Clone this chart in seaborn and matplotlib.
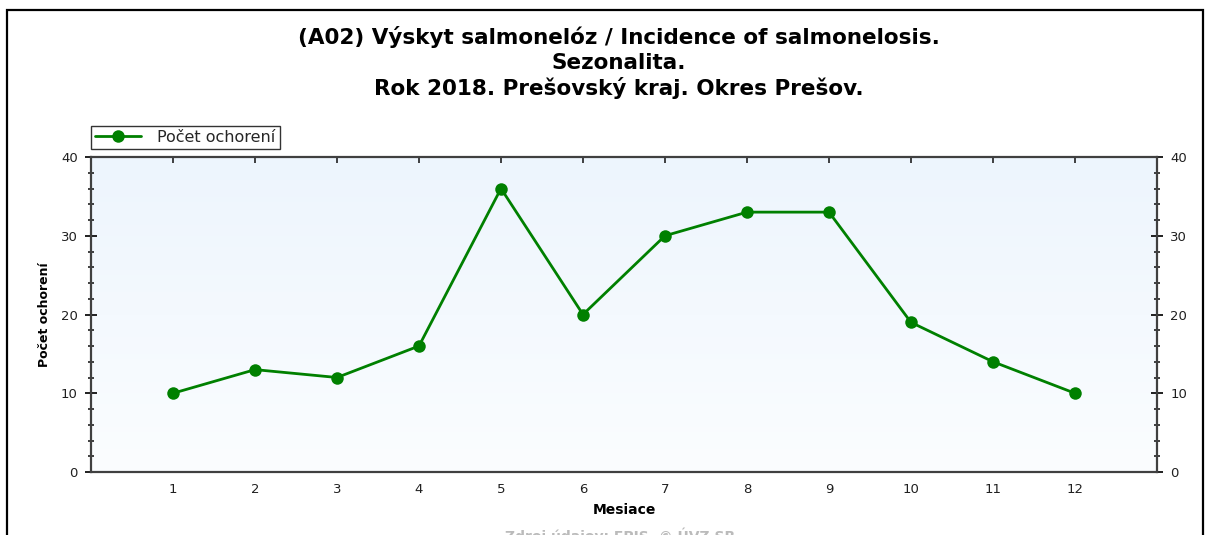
import numpy as np
import pandas as pd
import matplotlib
matplotlib.use("Agg")
import matplotlib.pyplot as plt
import seaborn as sns
from matplotlib.ticker import MultipleLocator
from matplotlib.patches import Rectangle

months = [1, 2, 3, 4, 5, 6, 7, 8, 9, 10, 11, 12]
cases = [10, 13, 12, 16, 36, 20, 30, 33, 33, 19, 14, 10]
series_name = "Počet ochorení"
title_lines = ["(A02) Výskyt salmonelóz / Incidence of salmonelosis.",
               "Sezonalita.",
               "Rok 2018. Prešovský kraj. Okres Prešov."]
x_label = "Mesiace"
y_label = "Počet ochorení"
source = "Zdroj údajov: EPIS, © ÚVZ SR"

sns.set_style("white")
plt.rcParams['font.family'] = ['DejaVu Sans']

W, H = 1206, 535
fig = plt.figure(figsize=(W / 100, H / 100), dpi=100)
fig.patch.set_facecolor("white")

# outer frame
fig.add_artist(Rectangle((7 / W, -0.1), (1203 - 7) / W, 1.1 - 10 / H,
                         transform=fig.transFigure, fill=False,
                         edgecolor="black", linewidth=1.6))

ax = fig.add_axes([91 / W, 1 - 472 / H, (1157 - 91) / W, (472 - 157) / H])

# gradient background
grad = np.linspace(0, 1, 256).reshape(-1, 1)
cmap = matplotlib.colors.LinearSegmentedColormap.from_list(
    "bg", ["#FBFDFF", "#EDF5FD"])
ax.imshow(grad, aspect="auto", cmap=cmap, origin="lower",
          extent=[0, 13, 0, 40], zorder=0)

df = pd.DataFrame({"Mesiac": months, series_name: cases})
sns.lineplot(data=df, x="Mesiac", y=series_name, ax=ax, color="#008000",
             marker="o", markersize=9, markeredgewidth=0, linewidth=2,
             label=series_name, zorder=3)

ax.set_xlim(0, 13)
ax.set_ylim(0, 40)
ax.set_xticks(months)
ax.yaxis.set_major_locator(MultipleLocator(10))
ax.yaxis.set_minor_locator(MultipleLocator(2))

for s in ax.spines.values():
    s.set_color("#404040")
    s.set_linewidth(1.6)

ax.tick_params(axis="x", which="major", direction="inout", length=8,
               width=1.4, color="#202020", labelsize=9.5, pad=4,
               labelcolor="#202020")
ax.tick_params(axis="y", which="major", direction="inout", length=9,
               width=1.4, color="#202020", labelsize=9.5, left=True, right=True,
               labelleft=True, labelright=True, pad=5, labelcolor="#202020")
ax.tick_params(axis="y", which="minor", direction="inout", length=5,
               width=1.2, color="#202020", left=True, right=True)

top = ax.secondary_xaxis("top")
top.set_xticks(months)
top.tick_params(direction="in", length=4, width=1.2, color="#202020",
                labeltop=False)
top.spines["top"].set_visible(False)

ax.set_xlabel(x_label, fontsize=10, fontweight="bold", labelpad=5,
              color="black")
ax.set_ylabel(y_label, fontsize=9, fontweight="bold", labelpad=7,
              color="black")

leg = ax.legend(loc="lower left", bbox_to_anchor=(91 / W, 1 - 149 / H),
                bbox_transform=fig.transFigure, frameon=True, fancybox=False,
                fontsize=11.5, handlelength=2.9, borderpad=0.25,
                borderaxespad=0, handletextpad=1.0)
leg.get_frame().set_edgecolor("black")
leg.get_frame().set_linewidth(1.0)

title_y = [37, 63, 88]
for t, y in zip(title_lines, title_y):
    fig.text(619 / W, 1 - y / H, t, ha="center", va="center",
             fontsize=15.5, fontweight="bold", color="black")

fig.text(620 / W, 1 - 527 / H, source, ha="center", va="top",
         fontsize=10, fontweight="bold", color="#BBBBBB")

fig.savefig("out.png", dpi=100)
